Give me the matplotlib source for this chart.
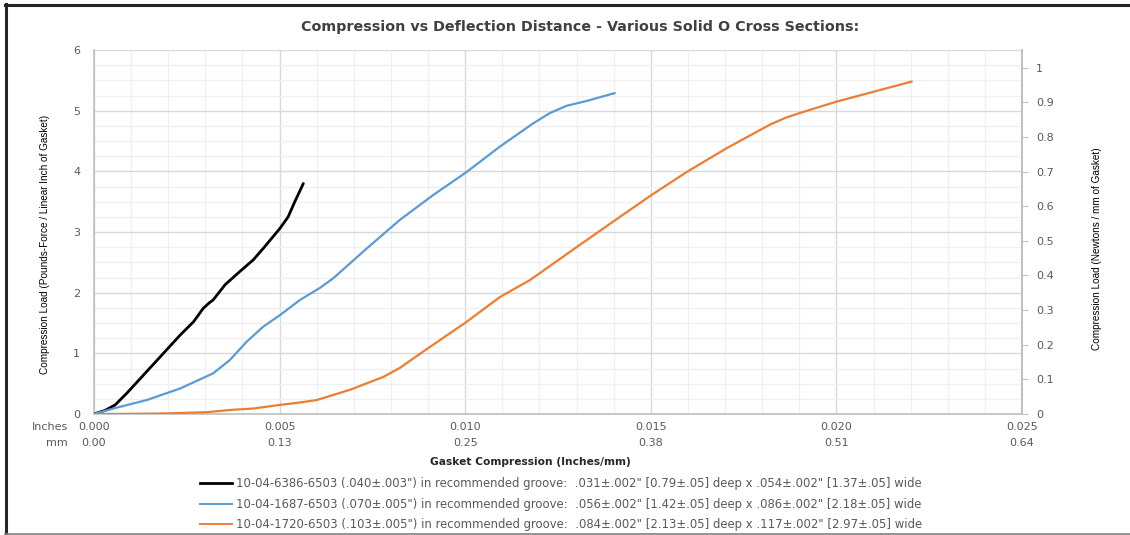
import matplotlib
matplotlib.use("Agg")
import matplotlib.pyplot as plt
from matplotlib.lines import Line2D
from matplotlib.ticker import MultipleLocator
import matplotlib.transforms as mtransforms

# ---- data -------------------------------------------------------------
x_ticks_in = [0.000, 0.005, 0.010, 0.015, 0.020, 0.025]
x_labels_in = ["0.000", "0.005", "0.010", "0.015", "0.020", "0.025"]
x_labels_mm = ["0.00", "0.13", "0.25", "0.38", "0.51", "0.64"]

right_ticks = [0, 0.1, 0.2, 0.3, 0.4, 0.5, 0.6, 0.7, 0.8, 0.9, 1.0]
right_labels = ["0", "0.1", "0.2", "0.3", "0.4", "0.5", "0.6", "0.7", "0.8", "0.9", "1"]
LBF_PER_IN_PER_N_PER_MM = 5.7101

black_x = [0, 0.0003, 0.00057, 0.00088, 0.00133, 0.00178, 0.00232, 0.00268, 0.00280,
           0.00294, 0.00310, 0.00321, 0.00353, 0.00393, 0.00429, 0.00456, 0.00501,
           0.00523, 0.00541, 0.00564]
black_y = [0, 0.06, 0.15, 0.34, 0.64, 0.94, 1.30, 1.52, 1.62,
           1.74, 1.83, 1.88, 2.13, 2.35, 2.54, 2.73, 3.06,
           3.25, 3.50, 3.80]

blue_x = [0, 0.00052, 0.00142, 0.00232, 0.00321, 0.00366, 0.00411, 0.00456, 0.00501,
          0.00555, 0.00609, 0.00645, 0.00735, 0.00824, 0.00914, 0.01004, 0.01094,
          0.01183, 0.01228, 0.01273, 0.01327, 0.01403]
blue_y = [0, 0.09, 0.23, 0.42, 0.67, 0.89, 1.19, 1.44, 1.63,
          1.88, 2.08, 2.24, 2.73, 3.20, 3.61, 3.99, 4.41,
          4.79, 4.96, 5.08, 5.16, 5.29]

orange_x = [0, 0.00100, 0.00196, 0.00304, 0.00375, 0.00429, 0.00501, 0.00555, 0.00600,
            0.00690, 0.00779, 0.00824, 0.00887, 0.01004, 0.01094, 0.01175, 0.01300,
            0.01417, 0.01502, 0.01597, 0.01704, 0.01776, 0.01821, 0.01866, 0.01911,
            0.02001, 0.02099, 0.02203]
orange_y = [0, 0.003, 0.01, 0.03, 0.07, 0.09, 0.15, 0.19, 0.23,
            0.40, 0.61, 0.76, 1.03, 1.52, 1.93, 2.21, 2.75,
            3.25, 3.61, 3.99, 4.38, 4.62, 4.77, 4.89, 4.98,
            5.15, 5.31, 5.48]

series_labels = [
    '10-04-6386-6503 (.040\u00b1.003") in recommended groove:  .031\u00b1.002" [0.79\u00b1.05] deep x .054\u00b1.002" [1.37\u00b1.05] wide',
    '10-04-1687-6503 (.070\u00b1.005") in recommended groove:  .056\u00b1.002" [1.42\u00b1.05] deep x .086\u00b1.002" [2.18\u00b1.05] wide',
    '10-04-1720-6503 (.103\u00b1.005") in recommended groove:  .084\u00b1.002" [2.13\u00b1.05] deep x .117\u00b1.002" [2.97\u00b1.05] wide',
]
series_colors = ["#000000", "#5B9BD5", "#ED7D31"]

TEXT = "#595959"
NARROW = "Liberation Sans"

# ---- figure -----------------------------------------------------------
W, H = 1130, 535
fig = plt.figure(figsize=(W / 100, H / 100), dpi=100)
fig.patch.set_facecolor("white")

def fx(px):
    return px / W

def fy(py):
    return 1 - py / H

ax = fig.add_axes([fx(94), fy(414), fx(1022) - fx(94), fy(50) - fy(414)])
ax.set_xlim(0, 0.025)
ax.set_ylim(0, 6)

ax.xaxis.set_major_locator(MultipleLocator(0.005))
ax.xaxis.set_minor_locator(MultipleLocator(0.001))
ax.yaxis.set_major_locator(MultipleLocator(1))
ax.yaxis.set_minor_locator(MultipleLocator(0.25))
ax.grid(which="minor", color="#F0F0F0", linewidth=1.0)
ax.grid(which="major", color="#D9D9D9", linewidth=1.0)
ax.set_axisbelow(True)

ax.spines["top"].set_visible(False)
for side in ["left", "bottom", "right"]:
    ax.spines[side].set_color("#BFBFBF")
    ax.spines[side].set_linewidth(1.2)

ax.set_xticks(x_ticks_in)
ax.set_xticklabels(x_labels_in)
ax.tick_params(axis="both", which="both", length=0, colors=TEXT, labelsize=8)
ax.tick_params(axis="x", pad=6)
ax.tick_params(axis="y", pad=10)
ax.set_yticks(range(0, 7))

# second row of x tick labels in millimetres
trans = mtransforms.blended_transform_factory(ax.transData, fig.transFigure)
for xv, lab in zip(x_ticks_in, x_labels_mm):
    ax.text(xv, fy(443), lab, transform=trans, ha="center", va="center",
            fontsize=8, color=TEXT)
fig.text(fx(68), fy(427), "Inches", ha="right", va="center", fontsize=8, color=TEXT)
fig.text(fx(68), fy(443), "mm", ha="right", va="center", fontsize=8, color=TEXT)

for xs, ys, c, lw in [(black_x, black_y, series_colors[0], 2.0),
                      (blue_x, blue_y, series_colors[1], 1.6),
                      (orange_x, orange_y, series_colors[2], 1.6)]:
    ax.plot(xs, ys, color=c, linewidth=lw, solid_capstyle="round",
            solid_joinstyle="round", zorder=3)

# secondary axis in N/mm
ax2 = ax.twinx()
ax2.set_ylim(0, 6 / LBF_PER_IN_PER_N_PER_MM)
ax2.set_yticks(right_ticks)
ax2.set_yticklabels(right_labels)
ax2.tick_params(axis="y", length=4, width=0.8, color="#BFBFBF", colors=TEXT,
                labelsize=8, pad=6)
for side in ["top", "left", "bottom"]:
    ax2.spines[side].set_visible(False)
ax2.spines["right"].set_color("#BFBFBF")
ax2.spines["right"].set_linewidth(1.2)

# titles and axis labels
fig.text(fx(580), fy(27), "Compression vs Deflection Distance - Various Solid O Cross Sections:",
         ha="center", va="center", fontsize=10.3, fontweight="bold", color="#404040")
fig.text(fx(530), fy(462), "Gasket Compression (Inches/mm)", ha="center", va="center",
         fontsize=7.7, fontweight="bold", color="#262626")
fig.text(fx(45), fy(244), "Compression Load (Pounds-Force / Linear Inch of Gasket)",
         rotation=90, ha="center", va="center", fontsize=7.2, family=NARROW,
         color="#000000")
fig.text(fx(1097), fy(249), "Compression Load (Newtons / mm of Gasket)",
         rotation=90, ha="center", va="center", fontsize=7.2, family=NARROW,
         color="#000000")

# legend
leg_handles = [Line2D([0], [0], color=c, linewidth=lw)
               for c, lw in zip(series_colors, [2.0, 1.4, 1.4])]
fig.legend(leg_handles, series_labels, loc="upper left",
           bbox_to_anchor=(fx(200), fy(477)), frameon=False, fontsize=8.4,
           handlelength=2.75, handletextpad=0.3, labelspacing=0.65,
           labelcolor=TEXT, borderpad=0, borderaxespad=0)

# outer frame
fig.add_artist(Line2D([fx(6), fx(6)], [fy(4), fy(534)], color="#262626", linewidth=2.2))
fig.add_artist(Line2D([fx(5), fx(1130)], [fy(4.5), fy(4.5)], color="#262626", linewidth=2.2))
fig.add_artist(Line2D([fx(5), fx(1130)], [fy(533.5), fy(533.5)], color="#808080", linewidth=1.2))

fig.savefig("out.png", dpi=100, facecolor="white")
